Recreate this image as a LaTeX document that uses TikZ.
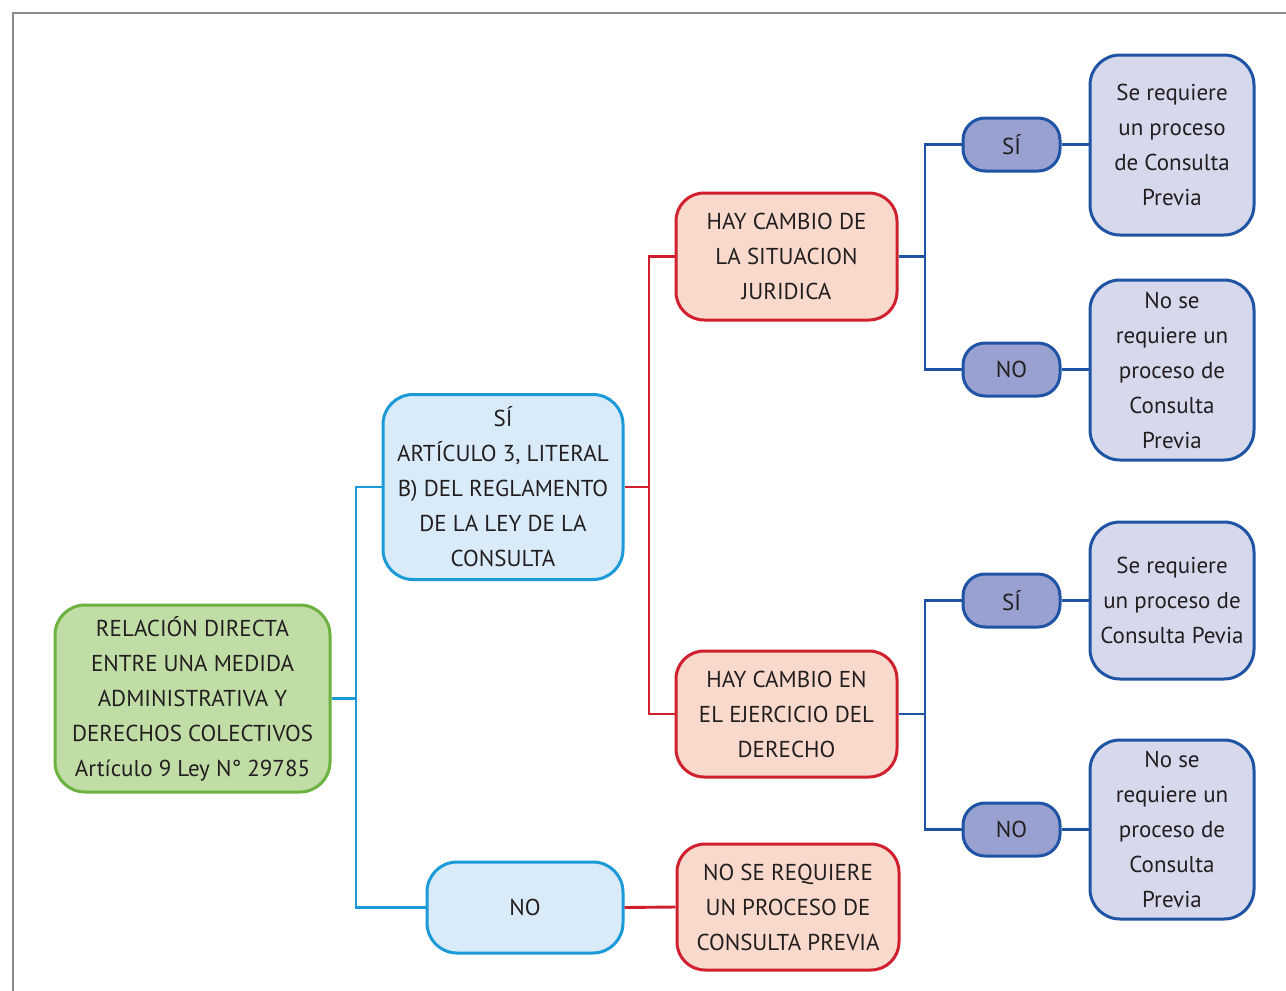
\documentclass[tikz,border=0pt]{standalone}
\usepackage{fontspec}
\setmainfont{PT Sans}
\definecolor{txt}{HTML}{231F20}
\definecolor{frame}{HTML}{8A8B8D}
\definecolor{grfill}{HTML}{C1DDA6}
\definecolor{grline}{HTML}{6BB23F}
\definecolor{cyfill}{HTML}{D9EAF8}
\definecolor{cyline}{HTML}{1B9AD7}
\definecolor{rdfill}{HTML}{F8D9CC}
\definecolor{rdline}{HTML}{D0202E}
\definecolor{pufill}{HTML}{98A1D0}
\definecolor{lvfill}{HTML}{D6D8EC}
\definecolor{blline}{HTML}{1F53A3}
\tikzset{
  box/.style={draw, line width=3pt, align=center, text=txt, inner sep=0pt,
    font=\fontsize{23}{35}\selectfont},
  greenbox/.style={box, fill=grfill, draw=grline, rounded corners=30pt},
  cyanbox/.style={box, fill=cyfill, draw=cyline, rounded corners=30pt},
  redbox/.style={box, fill=rdfill, draw=rdline, rounded corners=28pt},
  pillbox/.style={box, fill=pufill, draw=blline, rounded corners=22pt,
    minimum width=97pt, minimum height=53pt},
  resbox/.style={box, fill=lvfill, draw=blline, rounded corners=30pt, minimum width=164pt},
  cyanlink/.style={draw=cyline, line width=2.9pt},
  redlink/.style={draw=rdline, line width=2.9pt},
  bluelink/.style={draw=blline, line width=2.9pt},
}
\begin{document}
\begin{tikzpicture}[x=1pt, y=-1pt]
\useasboundingbox (0,0) rectangle (1286,991);
% outer frame
\draw[frame, line width=2.6pt] (13,991) -- (13,13) -- (1286,13);

% root
\node[greenbox, minimum width=275pt, minimum height=187pt] (root) at (192.5,698.5)
  {RELACIÓN DIRECTA\\ENTRE UNA MEDIDA\\ADMINISTRATIVA Y\\DERECHOS COLECTIVOS\\Artículo 9 Ley N° 29785};

% first level
\node[cyanbox, minimum width=240pt, minimum height=185pt] (si) at (503,487)
  {SÍ\\ARTÍCULO 3, LITERAL\\B) DEL REGLAMENTO\\DE LA LEY DE LA\\CONSULTA};
\node[cyanbox, minimum width=196pt, minimum height=91pt] (no) at (525,907.5) {NO};

% second level
\node[redbox, minimum width=221pt, minimum height=127pt] (jur) at (786.5,256.5)
  {HAY CAMBIO DE\\LA SITUACION\\JURIDICA};
\node[redbox, minimum width=221pt, minimum height=126pt] (ejer) at (786.5,714)
  {HAY CAMBIO EN\\EL EJERCICIO DEL\\DERECHO};
\node[redbox, minimum width=222pt, minimum height=126pt] (noreq) at (788,907)
  {NO SE REQUIERE\\UN PROCESO DE\\CONSULTA PREVIA};

% third level
\node[pillbox] (siA) at (1011.5,144.5) {SÍ};
\node[pillbox] (noA) at (1011.5,369.5) {NO};
\node[pillbox] (siB) at (1011.5,600.5) {SÍ};
\node[pillbox] (noB) at (1011.5,829.5) {NO};

% outcomes
\node[resbox, minimum height=180pt] (resA1) at (1172,145)
  {Se requiere\\un proceso\\de Consulta\\Previa};
\node[resbox, minimum height=180pt] (resA2) at (1172,370)
  {No se\\requiere un\\proceso de\\Consulta\\Previa};
\node[resbox, minimum height=157pt] (resB1) at (1172,600.5)
  {Se requiere\\un proceso de\\Consulta Pevia};
\node[resbox, minimum height=179pt] (resB2) at (1172,829.5)
  {No se\\requiere un\\proceso de\\Consulta\\Previa};

% connectors
\coordinate (c1) at (356,0);
\path[cyanlink] (root.east) -- (root.east -| c1);
\path[cyanlink] (si.west) -| (c1 |- no.west) -- (no.west);

\coordinate (c2) at (649,0);
\path[redlink] (si.east) -- (si.east -| c2);
\path[redlink] (jur.west) -| (c2 |- ejer.west) -- (ejer.west);
\path[redlink] (no.east) -- (noreq.west);

\coordinate (c3) at (925,0);
\path[bluelink] (jur.east) -- (jur.east -| c3);
\path[bluelink] (siA.west) -| (c3 |- noA.west) -- (noA.west);
\path[bluelink] (ejer.east) -- (ejer.east -| c3);
\path[bluelink] (siB.west) -| (c3 |- noB.west) -- (noB.west);

\path[bluelink] (siA.east) -- (siA.east -| resA1.west);
\path[bluelink] (noA.east) -- (noA.east -| resA2.west);
\path[bluelink] (siB.east) -- (siB.east -| resB1.west);
\path[bluelink] (noB.east) -- (noB.east -| resB2.west);
\end{tikzpicture}
\end{document}
